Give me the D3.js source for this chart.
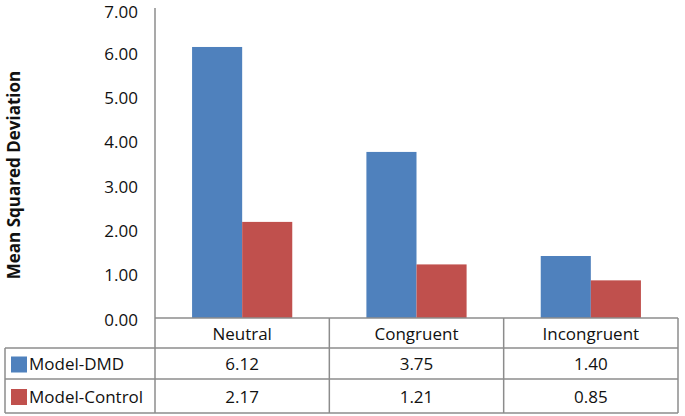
<!DOCTYPE html>
<html lang="en">
<head>
    <meta charset="UTF-8">
    <title>Mean Squared Deviation</title>
    <script src="https://d3js.org/d3.v7.min.js"></script>
    <style>
        body { margin: 0; background: #fff; }
        text { font-family: "Open Sans", "Noto Sans", sans-serif; fill: #111; }
        .grid { stroke: #8c8c8c; stroke-width: 1.5px; fill: none; }
    </style>
</head>
<body>
    <script>
        const categories = ["Neutral", "Congruent", "Incongruent"];
        const seriesNames = ["Model-DMD", "Model-Control"];
        const dmd = [6.12, 3.75, 1.40];
        const control = [2.17, 1.21, 0.85];
        const yTicks = [0, 1, 2, 3, 4, 5, 6, 7];
        const colors = ["#4F81BD", "#C0504D"];

        const width = 685, height = 416;
        const plotLeft = 155, plotRight = 678, plotTop = 8, zeroY = 318;
        const rowBottoms = [348, 379, 413];
        const tableLeft = 5;

        const svg = d3.select("body").append("svg")
            .attr("width", width)
            .attr("height", height);

        const x = d3.scaleBand().domain(categories).range([plotLeft, plotRight]);
        const xs = d3.scaleBand().domain(seriesNames).range([0, x.bandwidth()]).paddingOuter(0.74).paddingInner(0);
        const y = d3.scaleLinear().domain([0, 7]).range([zeroY, plotTop]);

        // y axis
        svg.append("line").attr("class", "grid")
            .attr("x1", plotLeft).attr("x2", plotLeft)
            .attr("y1", y(7)).attr("y2", zeroY);

        svg.append("g").selectAll("text")
            .data(yTicks)
            .enter().append("text")
            .attr("x", 138)
            .attr("y", d => Math.max(y(d) + 3, 13))
            .attr("text-anchor", "end")
            .attr("dominant-baseline", "middle")
            .style("font-size", "17px")
            .text(d => d.toFixed(2));

        svg.append("text")
            .attr("transform", `translate(20,${(plotTop + zeroY) / 2 + 12}) rotate(-90)`)
            .attr("text-anchor", "middle")
            .style("font-size", "17px")
            .style("font-weight", "bold")
            .text("Mean Squared Deviation");

        // bars
        const data = categories.map((c, i) => ({ cat: c, vals: [dmd[i], control[i]] }));
        svg.append("g").selectAll("g")
            .data(data)
            .enter().append("g")
            .attr("transform", d => `translate(${x(d.cat)},0)`)
            .selectAll("rect")
            .data(d => d.vals.map((v, j) => ({ name: seriesNames[j], v: v, j: j })))
            .enter().append("rect")
            .attr("x", d => xs(d.name))
            .attr("width", xs.bandwidth())
            .attr("y", d => y(d.v))
            .attr("height", d => zeroY - y(d.v))
            .attr("fill", d => colors[d.j]);

        // data table
        const table = svg.append("g");
        // horizontal lines
        table.append("line").attr("class", "grid")
            .attr("x1", plotLeft).attr("x2", plotRight).attr("y1", zeroY).attr("y2", zeroY);
        rowBottoms.forEach(rb => {
            table.append("line").attr("class", "grid")
                .attr("x1", tableLeft).attr("x2", plotRight).attr("y1", rb).attr("y2", rb);
        });
        // vertical lines
        table.append("line").attr("class", "grid")
            .attr("x1", tableLeft).attr("x2", tableLeft).attr("y1", rowBottoms[0]).attr("y2", rowBottoms[2]);
        [plotLeft].concat(categories.map(c => x(c) + x.bandwidth())).forEach(vx => {
            table.append("line").attr("class", "grid")
                .attr("x1", vx).attr("x2", vx).attr("y1", zeroY).attr("y2", rowBottoms[2]);
        });

        // header row
        table.selectAll(".cat")
            .data(categories)
            .enter().append("text")
            .attr("x", d => x(d) + x.bandwidth() / 2)
            .attr("y", (zeroY + rowBottoms[0]) / 2 + 2)
            .attr("text-anchor", "middle")
            .attr("dominant-baseline", "middle")
            .style("font-size", "17px")
            .text(d => d);

        // series rows
        const rows = [dmd, control];
        rows.forEach((vals, r) => {
            const cy = (rowBottoms[r] + rowBottoms[r + 1]) / 2 + 1;
            table.append("rect")
                .attr("x", 11).attr("y", cy - 8)
                .attr("width", 16).attr("height", 16)
                .attr("fill", colors[r]);
            table.append("text")
                .attr("x", 29).attr("y", cy + 1)
                .attr("dominant-baseline", "middle")
                .style("font-size", "17px")
                .text(seriesNames[r]);
            table.selectAll(".v" + r)
                .data(vals)
                .enter().append("text")
                .attr("x", (d, i) => x(categories[i]) + x.bandwidth() / 2)
                .attr("y", cy + 1)
                .attr("text-anchor", "middle")
                .attr("dominant-baseline", "middle")
                .style("font-size", "17px")
                .text(d => d.toFixed(2));
        });
    </script>
</body>
</html>
